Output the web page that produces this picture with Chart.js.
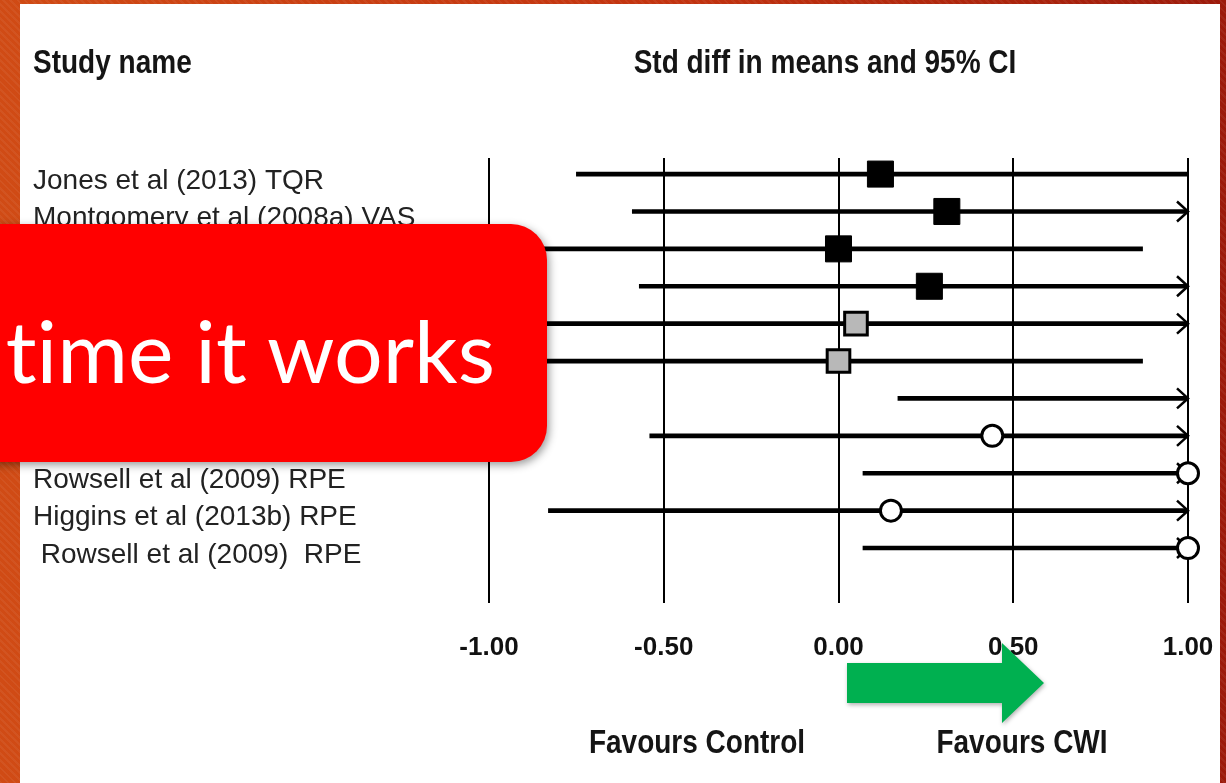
<!DOCTYPE html>
<html>
<head>
<meta charset="utf-8">
<title>Forest plot</title>
<script src="https://cdn.jsdelivr.net/npm/chart.js@4.4.1/dist/chart.umd.min.js"></script>
<style>
  html, body { margin: 0; padding: 0; }
  body {
    width: 1226px; height: 783px; overflow: hidden; position: relative;
    background:
      repeating-linear-gradient(45deg, rgba(255,255,255,0.05) 0 2px, rgba(0,0,0,0) 2px 5px),
      linear-gradient(90deg, #d04b15 0%, #c2330f 55%, #9c1a0b 100%);
  }
  #panel { position: absolute; left: 20px; top: 4px; width: 1200px; height: 779px; background: #fff; }
  #wrap { position: absolute; left: 0; top: 0; width: 1226px; height: 783px; }
  .hdr { position: absolute; font-weight: bold; color: #151515; white-space: nowrap; line-height: 1; }
  #overlay { position: absolute; left: 0; top: 0; }
  #overlay text { font-variant-ligatures: none; font-feature-settings: "liga" 0; }
</style>
</head>
<body>
<div id="panel"></div>
<div id="wrap"><canvas id="forest"></canvas></div>

<div class="hdr" id="hStudy">Study name</div>
<div class="hdr" id="hEffect">Std diff in means and 95% CI</div>
<div class="hdr" id="hControl">Favours Control</div>
<div class="hdr" id="hCwi">Favours CWI</div>

<svg id="overlay" width="1226" height="783">
  <rect x="-60" y="224" width="607" height="238" rx="36" ry="36" fill="#ff0000"
        style="filter: drop-shadow(2px 3px 4px rgba(0,0,0,0.4));"/>
  <text x="495" y="383" text-anchor="end" font-family="Lato, 'Open Sans', sans-serif"
        font-size="86" fill="#ffffff">time it works</text>
  <polygon points="847,663 1002,663 1002,643 1044,683 1002,723 1002,703 847,703" fill="#00b050"
           style="filter: drop-shadow(1px 2px 2px rgba(0,0,0,0.3));"/>
</svg>

<script>
// study rows, top to bottom
const studies = [
  'Jones et al (2013) TQR',
  'Montgomery et al (2008a) VAS',
  'Montgomery et al (2008b) VAS',
  'Rowsell et al (2011) VAS',
  'Higgins et al (2013a) VAS',
  'Higgins et al (2013b) VAS',
  'Montgomery et al (2008a) RPE',
  'Higgins et al (2013a) RPE',
  'Rowsell et al (2009) RPE',
  'Higgins et al (2013b) RPE',
  ' Rowsell et al (2009)  RPE'
];
const effect = [0.12, 0.31, 0.00, 0.26, 0.05, 0.00, 1.10, 0.44, 1.00, 0.15, 1.00];
const lower  = [-0.75, -0.59, -0.87, -0.57, -0.95, -0.87, 0.17, -0.54, 0.07, -0.83, 0.07];
const upper  = [1.00, 1.21, 0.87, 1.09, 1.05, 0.87, 2.03, 1.42, 1.93, 1.13, 1.93];
const markerGroup = ['filled', 'filled', 'filled', 'filled', 'grey', 'grey', 'open', 'open', 'open', 'open', 'open'];
const xTicks = [-1.00, -0.50, 0.00, 0.50, 1.00];

const family = '"Liberation Sans", Arial, sans-serif';
const labelSize = 28;
const headSize = 28;
const tickSize = 26;

function placeHeader(id, x, y, anchor) {
  const el = document.getElementById(id);
  el.style.fontFamily = family;
  el.style.fontSize = headSize + 'px';
  el.style.top = (y - headSize / 2) + 'px';
  el.style.left = x + 'px';
  // the original is a little stretched vertically
  el.style.transform = (anchor === 'center' ? 'translateX(-50%) ' : '') + 'scaleY(1.18)';
}
placeHeader('hStudy', 33, 62);
placeHeader('hEffect', 825, 62, 'center');
placeHeader('hControl', 697, 742, 'center');
placeHeader('hCwi', 1022, 742, 'center');

const rows = studies.map((s, i) => i);
const ciData = rows.map(i => ({ y: i, x: [lower[i], upper[i]] }));
function markers(group) {
  return rows.filter(i => markerGroup[i] === group).map(i => ({ x: effect[i], y: i }));
}

// open arrow heads where the CI runs past the axis
const ciArrows = {
  id: 'ciArrows',
  afterDatasetDraw(chart, args) {
    if (args.index !== 0) return;
    const xs = chart.scales.x, ys = chart.scales.y, ctx = chart.ctx;
    const xr = xs.getPixelForValue(xs.max);
    ctx.save();
    ctx.strokeStyle = '#000';
    ctx.lineWidth = 2.5;
    upper.forEach((u, i) => {
      if (u <= xs.max) return;
      const yp = ys.getPixelForValue(i);
      ctx.beginPath();
      ctx.moveTo(xr - 11, yp - 10);
      ctx.lineTo(xr, yp);
      ctx.lineTo(xr - 11, yp + 10);
      ctx.stroke();
    });
    ctx.restore();
  }
};

const markerClip = { left: 20, top: 20, right: 14, bottom: 20 };

new Chart(document.getElementById('forest'), {
  type: 'bar',
  data: {
    datasets: [
      { type: 'bar', indexAxis: 'y', data: ciData, backgroundColor: '#000', barThickness: 4, order: 3 },
      { type: 'scatter', data: markers('filled'), pointStyle: 'rect', pointRadius: 18.4,
        backgroundColor: '#000', borderColor: '#000', borderWidth: 1, order: 1, clip: markerClip },
      { type: 'scatter', data: markers('grey'), pointStyle: 'rect', pointRadius: 16,
        backgroundColor: '#b8b8b8', borderColor: '#000', borderWidth: 3, order: 1, clip: markerClip },
      { type: 'scatter', data: markers('open'), pointStyle: 'circle', pointRadius: 10.5,
        backgroundColor: '#fff', borderColor: '#000', borderWidth: 3, order: 1, clip: markerClip }
    ]
  },
  options: {
    responsive: true,
    maintainAspectRatio: false,
    animation: false,
    events: [],
    layout: { padding: { left: 33, right: 38, top: 158, bottom: 0 } },
    plugins: { legend: { display: false }, tooltip: { enabled: false } },
    scales: {
      x: {
        type: 'linear', min: -1, max: 1, offset: false,
        afterBuildTicks: s => { s.ticks = xTicks.map(v => ({ value: v })); },
        afterFit: s => { s.height = 180; s.paddingLeft = 0; s.paddingRight = 0; },
        grid: { color: '#000', lineWidth: 2, drawTicks: false, offset: false },
        border: { display: false },
        ticks: {
          padding: 29, color: '#111', maxRotation: 0, autoSkip: false,
          font: { family: family, size: tickSize, weight: 'bold' },
          callback: v => v.toFixed(2)
        }
      },
      y: {
        type: 'linear', reverse: true, min: -0.43, max: 11.47, offset: false,
        afterBuildTicks: s => { s.ticks = rows.map(i => ({ value: i })); },
        afterFit: s => { s.width = 456; s.paddingTop = 0; s.paddingBottom = 0; },
        grid: { display: false, offset: false },
        border: { display: false },
        ticks: {
          autoSkip: false, crossAlign: 'far', padding: 0, labelOffset: 7, color: '#222',
          font: { family: family, size: labelSize },
          callback: v => studies[v]
        }
      }
    }
  },
  plugins: [ciArrows]
});
</script>
</body>
</html>
